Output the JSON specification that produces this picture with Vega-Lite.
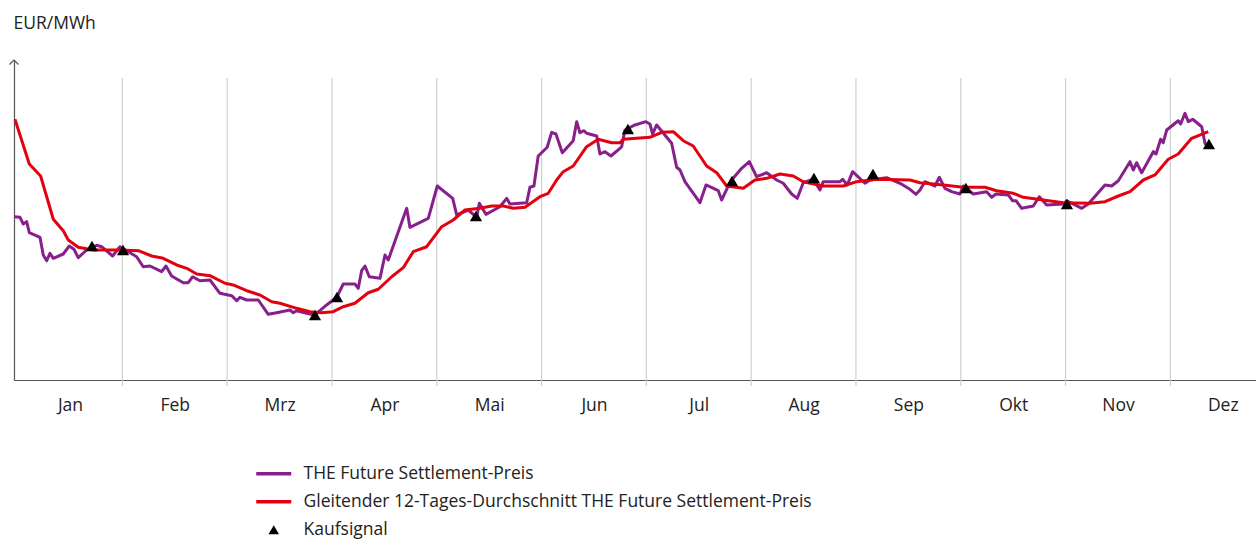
{
  "$schema": "https://vega.github.io/schema/vega-lite/v6.json",
  "width": 1242,
  "height": 320,
  "autosize": "none",
  "padding": {"left": 14, "top": 60, "right": 0, "bottom": 160},
  "background": "white",
  "config": {
    "view": {"stroke": null},
    "font": "Open Sans"
  },
  "datasets": {
    "months": [{"t":1},{"t":2},{"t":3},{"t":4},{"t":5},{"t":6},{"t":7},{"t":8},{"t":9},{"t":10},{"t":11}],
    "price": [
      {"t":-0.034,"v":40.41},{"t":0.023,"v":40.34},{"t":0.054,"v":39.5},{"t":0.087,"v":39.79},{"t":0.112,"v":38.41},{"t":0.214,"v":37.84},{"t":0.245,"v":35.63},{"t":0.278,"v":34.91},{"t":0.309,"v":35.84},{"t":0.341,"v":35.21},{"t":0.436,"v":35.75},{"t":0.493,"v":36.75},{"t":0.538,"v":36.34},{"t":0.579,"v":35.29},{"t":0.659,"v":36.25},{"t":0.755,"v":36.84},{"t":0.802,"v":36.66},{"t":0.907,"v":35.5},{"t":0.977,"v":36.66},{"t":1.073,"v":35.91},{"t":1.136,"v":35.41},{"t":1.199,"v":34.16},{"t":1.263,"v":34.25},{"t":1.375,"v":33.54},{"t":1.416,"v":34.25},{"t":1.47,"v":33.0},{"t":1.581,"v":32.16},{"t":1.629,"v":32.16},{"t":1.671,"v":32.91},{"t":1.74,"v":32.41},{"t":1.836,"v":32.5},{"t":1.931,"v":30.84},{"t":2.043,"v":30.54},{"t":2.091,"v":29.91},{"t":2.122,"v":30.34},{"t":2.186,"v":30.0},{"t":2.297,"v":30.0},{"t":2.392,"v":28.21},{"t":2.472,"v":28.41},{"t":2.599,"v":28.75},{"t":2.631,"v":28.41},{"t":2.663,"v":28.66},{"t":2.759,"v":28.34},{"t":2.838,"v":28.13},
      {"t":2.949,"v":29.38},{"t":3.045,"v":30.34},{"t":3.108,"v":32.0},{"t":3.219,"v":32.0},{"t":3.251,"v":31.46},{"t":3.283,"v":33.66},{"t":3.315,"v":34.25},{"t":3.356,"v":32.91},{"t":3.458,"v":32.71},{"t":3.506,"v":35.63},{"t":3.537,"v":35.0},{"t":3.713,"v":41.46},{"t":3.744,"v":39.09},{"t":3.919,"v":40.21},{"t":4.005,"v":44.25},{"t":4.152,"v":42.71},{"t":4.19,"v":40.63},{"t":4.301,"v":41.25},{"t":4.381,"v":40.34},{"t":4.406,"v":42.09},{"t":4.469,"v":40.71},{"t":4.603,"v":41.66},{"t":4.667,"v":42.71},{"t":4.698,"v":42.0},{"t":4.858,"v":42.16},{"t":4.889,"v":44.09},{"t":4.927,"v":44.25},{"t":4.968,"v":48.0},{"t":5.054,"v":49.09},{"t":5.096,"v":50.96},{"t":5.137,"v":50.75},{"t":5.198,"v":48.41},{"t":5.302,"v":49.91},{"t":5.335,"v":52.29},{"t":5.366,"v":50.91},{"t":5.405,"v":51.16},{"t":5.43,"v":50.84},{"t":5.526,"v":50.5},{"t":5.557,"v":48.25},{"t":5.605,"v":48.54},{"t":5.662,"v":48.0},{"t":5.748,"v":48.96},
      {"t":5.764,"v":49.16},{"t":5.796,"v":51.25},{"t":5.891,"v":51.88},{"t":5.996,"v":52.29},{"t":6.034,"v":52.0},{"t":6.06,"v":50.75},{"t":6.098,"v":51.88},{"t":6.241,"v":49.59},{"t":6.289,"v":46.59},{"t":6.321,"v":46.25},{"t":6.368,"v":44.79},{"t":6.511,"v":42.16},{"t":6.569,"v":44.38},{"t":6.686,"v":43.66},{"t":6.718,"v":42.5},{"t":6.766,"v":43.84},{"t":6.814,"v":45.0},{"t":6.909,"v":46.46},{"t":6.982,"v":47.29},{"t":7.052,"v":45.41},{"t":7.148,"v":45.91},{"t":7.243,"v":45.0},{"t":7.306,"v":44.59},{"t":7.386,"v":43.25},{"t":7.44,"v":42.71},{"t":7.497,"v":44.66},{"t":7.593,"v":45.09},{"t":7.656,"v":43.75},{"t":7.688,"v":44.79},{"t":7.847,"v":44.79},{"t":7.873,"v":45.09},{"t":7.917,"v":44.38},{"t":7.968,"v":46.04},{"t":8.086,"v":44.59},{"t":8.134,"v":45.0},{"t":8.293,"v":45.29},{"t":8.42,"v":44.59},{"t":8.515,"v":43.84},{"t":8.573,"v":43.21},{"t":8.611,"v":43.75},
      {"t":8.658,"v":44.79},{"t":8.754,"v":44.25},{"t":8.795,"v":45.34},{"t":8.849,"v":43.96},{"t":8.913,"v":43.54},{"t":8.992,"v":43.25},{"t":9.024,"v":44.25},{"t":9.119,"v":43.25},{"t":9.247,"v":43.54},{"t":9.295,"v":42.84},{"t":9.336,"v":43.25},{"t":9.453,"v":43.13},{"t":9.495,"v":42.41},{"t":9.527,"v":42.41},{"t":9.581,"v":41.46},{"t":9.692,"v":41.75},{"t":9.749,"v":42.91},{"t":9.82,"v":41.88},{"t":9.978,"v":42.0},{"t":10.01,"v":42.41},{"t":10.09,"v":41.88},{"t":10.154,"v":41.46},{"t":10.217,"v":42.0},{"t":10.376,"v":44.38},{"t":10.44,"v":44.25},{"t":10.503,"v":44.91},{"t":10.615,"v":47.29},{"t":10.646,"v":46.25},{"t":10.678,"v":47.16},{"t":10.726,"v":45.91},{"t":10.837,"v":48.54},{"t":10.863,"v":48.25},{"t":10.907,"v":50.09},{"t":10.932,"v":49.66},{"t":10.965,"v":51.25},{"t":11.075,"v":52.41},{"t":11.098,"v":52.0},{"t":11.139,"v":53.34},{"t":11.171,"v":52.29},{"t":11.213,"v":52.59},{"t":11.299,"v":51.66},{"t":11.33,"v":49.59},{"t":11.356,"v":49.16}
    ],
    "avg": [
      {"t":-0.025,"v":52.59},{"t":0.112,"v":47.0},{"t":0.22,"v":45.5},{"t":0.341,"v":40.09},{"t":0.436,"v":38.66},{"t":0.484,"v":37.5},{"t":0.579,"v":36.59},{"t":0.722,"v":36.25},{"t":0.818,"v":36.25},{"t":0.977,"v":36.25},{"t":1.152,"v":36.16},{"t":1.28,"v":35.5},{"t":1.39,"v":35.21},{"t":1.518,"v":34.38},{"t":1.614,"v":33.96},{"t":1.709,"v":33.25},{"t":1.836,"v":33.04},{"t":1.979,"v":32.09},{"t":2.058,"v":31.88},{"t":2.186,"v":31.16},{"t":2.313,"v":30.63},{"t":2.425,"v":29.79},{"t":2.504,"v":29.59},{"t":2.663,"v":28.96},{"t":2.79,"v":28.54},{"t":2.902,"v":28.41},{"t":3.012,"v":28.54},{"t":3.108,"v":29.16},{"t":3.219,"v":29.59},{"t":3.346,"v":30.91},{"t":3.442,"v":31.34},{"t":3.57,"v":32.91},{"t":3.68,"v":34.04},{"t":3.776,"v":36.04},{"t":3.904,"v":36.66},{"t":4.047,"v":39.16},{"t":4.157,"v":40.0},{"t":4.269,"v":41.25},{"t":4.412,"v":41.46},{"t":4.524,"v":41.75},{"t":4.635,"v":41.75},{"t":4.73,"v":41.46},{"t":4.842,"v":41.59},{"t":4.985,"v":42.91},{"t":5.064,"v":43.34},{"t":5.144,"v":45.0},{"t":5.207,"v":46.04},{"t":5.302,"v":46.75},{"t":5.43,"v":49.16},{"t":5.541,"v":50.09},{"t":5.669,"v":49.66},{"t":5.748,"v":49.66},{"t":5.78,"v":50.09},{"t":6.034,"v":50.34},{"t":6.146,"v":50.96},{"t":6.257,"v":51.04},{"t":6.352,"v":49.91},{"t":6.447,"v":49.25},{"t":6.575,"v":46.75},{"t":6.671,"v":45.91},{"t":6.766,"v":44.25},{"t":6.925,"v":43.96},{"t":7.036,"v":45.0},{"t":7.148,"v":45.21},{"t":7.275,"v":45.75},{"t":7.402,"v":45.5},{"t":7.497,"v":44.79},{"t":7.688,"v":44.25},{"t":7.879,"v":44.25},{"t":8.007,"v":44.79},{"t":8.197,"v":45.09},{"t":8.515,"v":45.0},{"t":8.611,"v":44.66},{"t":8.833,"v":44.38},{"t":9.024,"v":44.09},{"t":9.231,"v":44.09},{"t":9.342,"v":43.66},{"t":9.501,"v":43.34},{"t":9.596,"v":42.84},{"t":9.787,"v":42.5},{"t":9.978,"v":42.16},{"t":10.233,"v":42.09},{"t":10.376,"v":42.29},{"t":10.503,"v":43.0},{"t":10.615,"v":43.54},{"t":10.742,"v":45.0},{"t":10.853,"v":45.63},{"t":10.98,"v":47.59},{"t":11.075,"v":48.25},{"t":11.203,"v":50.21},{"t":11.361,"v":51.04}
    ],
    "buy": [
      {"t":0.71,"v":36.75},{"t":1.006,"v":36.25},{"t":2.838,"v":28.13},{"t":3.048,"v":30.38},{"t":4.374,"v":40.5},{"t":5.824,"v":51.38},{"t":6.817,"v":44.88},{"t":7.599,"v":45.25},{"t":8.162,"v":45.75},{"t":9.049,"v":44.0},{"t":10.013,"v":42.0},{"t":11.368,"v":49.5}
    ]
  },
  "layer": [
    {
      "data": {"name": "months"},
      "mark": {"type": "rule", "color": "#cfcfcf", "strokeWidth": 1.2},
      "encoding": {
        "x": {
          "field": "t", "type": "quantitative",
          "scale": {"domain": [-0.034, 11.817], "nice": false, "zero": false},
          "axis": {
            "title": null,
            "values": [0.5,1.5,2.5,3.5,4.5,5.5,6.5,7.5,8.5,9.5,10.5,11.5],
            "labelExpr": "['Jan','Feb','Mrz','Apr','Mai','Jun','Jul','Aug','Sep','Okt','Nov','Dez'][floor(datum.value)]",
            "ticks": false, "grid": false,
            "domainColor": "#555", "domainWidth": 1.2,
            "labelFontSize": 17.5, "labelColor": "#222", "labelPadding": 16, "labelFlush": false
          }
        },
        "y": {
          "datum": 19.25, "type": "quantitative",
          "scale": {"domain": [20, 60], "nice": false, "zero": false},
          "axis": {
            "title": "EUR/MWh", "labels": false, "ticks": false, "grid": false,
            "domainColor": "#555", "domainWidth": 1.2,
            "titleAngle": 0, "titleX": -1, "titleY": -32, "titleAlign": "left", "titleBaseline": "alphabetic",
            "titleFontSize": 17.5, "titleFontWeight": "normal", "titleColor": "#222"
          }
        },
        "y2": {"datum": 57.75}
      }
    },
    {
      "data": {"values": [{"t": -0.034, "v": 60}]},
      "mark": {"type": "point", "shape": "M-1,1L0,0L1,1", "size": 81, "filled": false, "stroke": "#555", "strokeWidth": 1.2, "opacity": 1},
      "encoding": {
        "x": {"field": "t", "type": "quantitative", "title": null},
        "y": {"field": "v", "type": "quantitative", "title": "EUR/MWh"}
      }
    },
    {
      "data": {"name": "price"},
      "mark": {"type": "line", "strokeWidth": 3, "strokeJoin": "round"},
      "encoding": {
        "x": {"field": "t", "type": "quantitative", "title": null},
        "y": {"field": "v", "type": "quantitative", "title": "EUR/MWh"},
        "color": {
          "datum": "THE Future Settlement-Preis",
          "scale": {
            "domain": ["THE Future Settlement-Preis", "Gleitender 12-Tages-Durchschnitt THE Future Settlement-Preis", "Kaufsignal"],
            "range": ["#87208C", "#E3000F", "#000000"]
          },
          "legend": {
            "title": null,
            "orient": "none",
            "legendX": 251,
            "legendY": 405,
            "direction": "vertical",
            "symbolSize": 1225,
            "labelFontSize": 17.5,
            "labelColor": "#222",
            "labelOffset": 21,
            "rowPadding": 9,
            "labelLimit": 800,
            "encode": {
              "symbols": {
                "update": {
                  "shape": {"signal": "datum.value === 'Kaufsignal' ? 'triangle-up' : 'stroke'"},
                  "size": {"signal": "datum.value === 'Kaufsignal' ? 110 : 1225"},
                  "strokeWidth": {"signal": "datum.value === 'Kaufsignal' ? 0 : 3.5"},
                  "fill": {"signal": "datum.value === 'Kaufsignal' ? '#000000' : 'transparent'"},
                  "stroke": {"signal": "datum.value === 'Kaufsignal' ? '#000000' : (datum.value === 'THE Future Settlement-Preis' ? '#87208C' : '#E3000F')"},
                  "opacity": {"value": 1}
                }
              }
            }
          }
        }
      }
    },
    {
      "data": {"name": "avg"},
      "mark": {"type": "line", "strokeWidth": 3, "strokeJoin": "round"},
      "encoding": {
        "x": {"field": "t", "type": "quantitative", "title": null},
        "y": {"field": "v", "type": "quantitative", "title": "EUR/MWh"},
        "color": {"datum": "Gleitender 12-Tages-Durchschnitt THE Future Settlement-Preis"}
      }
    },
    {
      "data": {"name": "buy"},
      "mark": {"type": "point", "shape": "triangle-up", "size": 150, "filled": true, "opacity": 1},
      "encoding": {
        "x": {"field": "t", "type": "quantitative", "title": null},
        "y": {"field": "v", "type": "quantitative", "title": "EUR/MWh"},
        "color": {"datum": "Kaufsignal"}
      }
    }
  ]
}
